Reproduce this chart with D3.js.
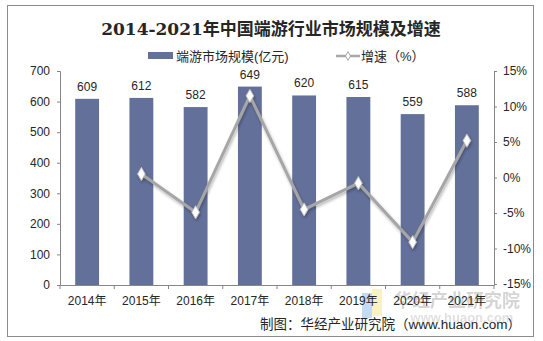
<!DOCTYPE html>
<html><head><meta charset="utf-8">
<script src="https://cdn.jsdelivr.net/npm/d3@7/dist/d3.min.js"></script>
<style>body{margin:0;background:#fff}svg{display:block}</style>
</head><body>
<script>
const years = ["2014年","2015年","2016年","2017年","2018年","2019年","2020年","2021年"];
const marketSize = [609,612,582,649,620,615,559,588];
const growth = [null,0.5,-4.9,11.5,-4.5,-0.8,-9.1,5.2];
const leftTicks = [0,100,200,300,400,500,600,700];
const rightTicks = [-15,-10,-5,0,5,10,15];
const title = "2014-2021年中国端游行业市场规模及增速";
const legendBar = "端游市场规模(亿元)";
const legendLine = "增速（%）";
const source = "制图：华经产业研究院（www.huaon.com）";

const W=543,H=341;
const svg=d3.select("body").append("svg").attr("width",W).attr("height",H);
const defs=svg.append("defs");
const f=defs.append("filter").attr("id","sh").attr("x","-20%").attr("y","-20%").attr("width","140%").attr("height","140%");
f.append("feGaussianBlur").attr("in","SourceAlpha").attr("stdDeviation",1.5).attr("result","b");
f.append("feOffset").attr("dx",1).attr("dy",2).attr("result","o");
f.append("feComponentTransfer").append("feFuncA").attr("type","linear").attr("slope",0.3);
const fm=f.append("feMerge");fm.append("feMergeNode");fm.append("feMergeNode").attr("in","SourceGraphic");

svg.append("rect").attr("x",7.5).attr("y",5.5).attr("width",526).attr("height",331).attr("fill","#fff").attr("stroke","#8c8c8c").attr("stroke-width",1);

const font="Arial, 'Liberation Sans', 'Noto Sans CJK SC', sans-serif";
svg.append("text").attr("x",271).attr("y",35).attr("text-anchor","middle")
 .attr("font-family","'DejaVu Serif','Noto Sans CJK SC', serif").attr("font-weight","bold").attr("font-size",17).attr("fill","#262626").text(title);

const x=d3.scaleBand().domain(years).range([60,494]).paddingInner(0.56).paddingOuter(0.28);
const yL=d3.scaleLinear().domain([0,700]).range([285,71]);
const yR=d3.scaleLinear().domain([-15,15]).range([284,71]);

// legend
svg.append("rect").attr("x",148).attr("y",52).attr("width",25).attr("height",7).attr("fill","#63709A");
svg.append("text").attr("x",176).attr("y",61).attr("font-family",font).attr("font-size",13).attr("fill","#262626").text(legendBar);
svg.append("line").attr("x1",336).attr("x2",360).attr("y1",56).attr("y2",56).attr("stroke","#A6A6A6").attr("stroke-width",2.5);
svg.append("path").attr("d",d3.symbol(d3.symbolDiamond,22)()).attr("transform","translate(348,56)").attr("fill","#fff").attr("stroke","#A6A6A6");
svg.append("text").attr("x",361).attr("y",61).attr("font-family",font).attr("font-size",13).attr("fill","#262626").text(legendLine);

// watermark
svg.append("rect").attr("x",362).attr("y",293).attr("width",10).attr("height",25).attr("fill","#9cc3f0").attr("opacity",0.6);
svg.append("rect").attr("x",372).attr("y",289).attr("width",10).attr("height",27).attr("fill","#f7e7a0").attr("opacity",0.6);
svg.append("text").attr("x",457).attr("y",307).attr("text-anchor","middle").attr("font-family","'Noto Sans CJK SC',sans-serif").attr("font-weight","bold").attr("font-size",18).attr("fill","#c8c8c8").attr("opacity",0.75).text("华经产业研究院");
svg.append("text").attr("x",462).attr("y",322).attr("text-anchor","middle").attr("font-family",font).attr("font-weight","bold").attr("font-size",13).attr("fill","#d4d4d4").attr("opacity",0.7).text("www.huaon.com");

// bars
svg.append("g").selectAll("rect").data(marketSize).join("rect")
 .attr("x",(d,i)=>x(years[i])).attr("width",x.bandwidth()).attr("y",d=>yL(d)).attr("height",d=>yL(0)-yL(d)).attr("fill","#63709A");
svg.append("g").selectAll("text").data(marketSize).join("text")
 .attr("x",(d,i)=>x(years[i])+x.bandwidth()/2).attr("y",d=>yL(d)-8).attr("text-anchor","middle")
 .attr("font-family",font).attr("font-size",12).attr("fill","#262626").text(d=>d);

// axes
const ax=svg.append("g").attr("transform","translate(60,0)").call(d3.axisLeft(yL).tickValues(leftTicks).tickSize(3).tickPadding(7));
const axR=svg.append("g").attr("transform","translate(494,0)").call(d3.axisRight(yR).tickValues(rightTicks).tickSize(3).tickPadding(6).tickFormat(d=>d+"%"));
const bx=svg.append("g").attr("transform","translate(0,285)").call(d3.axisBottom(x).tickSize(0).tickPadding(11));
const bounds=d3.range(years.length+1).map(i=>60+i*(434/years.length));
svg.append("g").selectAll("line").data(bounds).join("line").attr("x1",d=>d).attr("x2",d=>d).attr("y1",285).attr("y2",289).attr("stroke","#868686");
[ax,axR,bx].forEach(g=>{g.selectAll("path.domain").attr("stroke","#868686");g.selectAll(".tick line").attr("stroke","#868686");
 g.selectAll("text").attr("font-family",font).attr("font-size",12).attr("fill","#262626");});

// line
const pts=growth.map((g,i)=>({g,i})).filter(d=>d.g!==null);
const line=d3.line().x(d=>x(years[d.i])+x.bandwidth()/2).y(d=>yR(d.g));
const lg=svg.append("g").attr("filter","url(#sh)");
lg.append("path").datum(pts).attr("d",line).attr("fill","none").attr("stroke","#A6A6A6").attr("stroke-width",3);
lg.selectAll("path.m").data(pts).join("path").attr("class","m").attr("d",d3.symbol(d3.symbolDiamond,50)())
 .attr("transform",d=>`translate(${x(years[d.i])+x.bandwidth()/2},${yR(d.g)})`).attr("fill","#fff").attr("stroke","#BFBFBF").attr("stroke-width",1);

svg.append("text").attr("x",521).attr("y",329).attr("text-anchor","end").attr("font-family",font).attr("font-size",13.5).attr("fill","#262626").text(source);
</script>
</body></html>
